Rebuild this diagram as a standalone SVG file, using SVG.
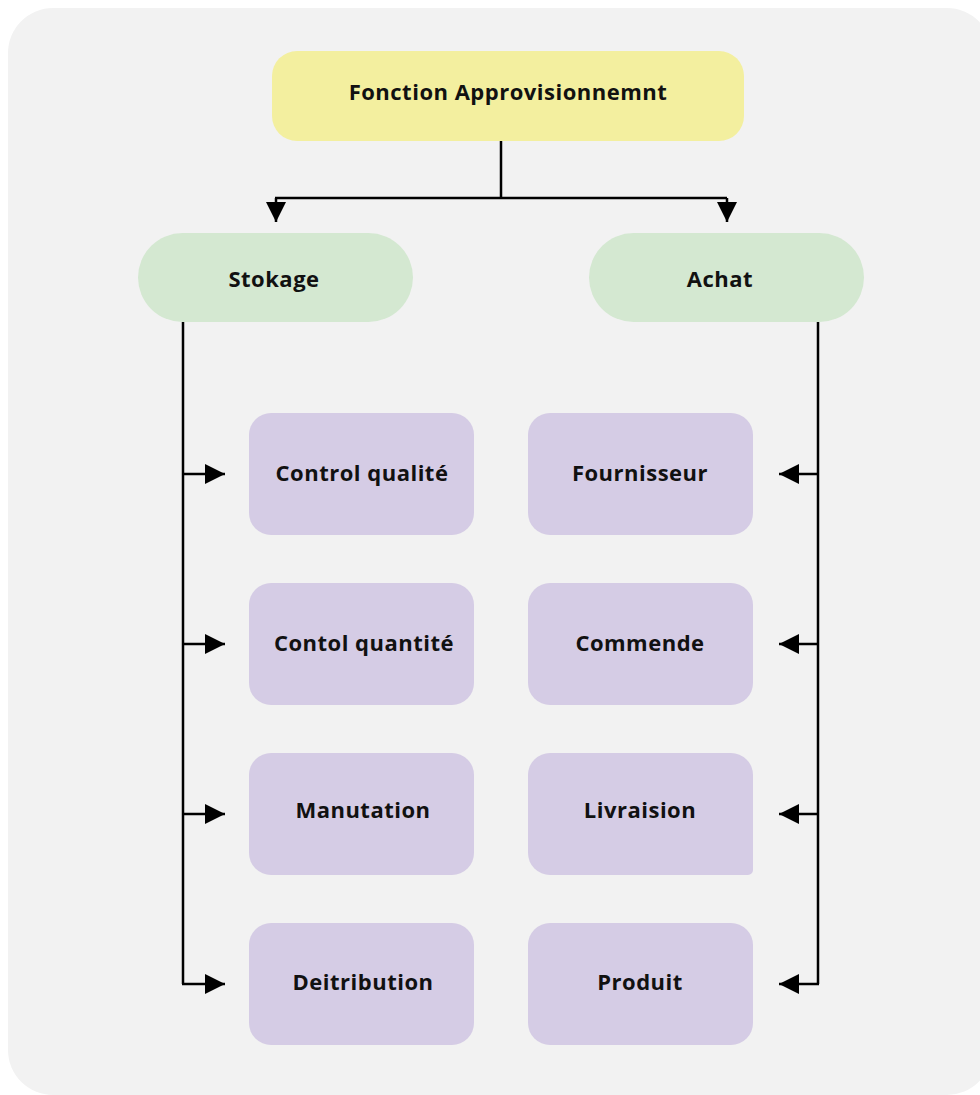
<svg xmlns="http://www.w3.org/2000/svg" width="980" height="1095" viewBox="0 0 980 1095">
<defs>
<marker id="ah" viewBox="0 0 20 20" refX="20" refY="10" markerWidth="20" markerHeight="20" markerUnits="userSpaceOnUse" orient="auto">
<path d="M0,0 L20,10 L0,20 Z" fill="#000"/>
</marker>
<style>
.t{font-family:"Open Sans","Liberation Sans",sans-serif;font-weight:700;fill:#111;text-anchor:middle;font-size:22px;letter-spacing:0.5px}
.c{fill:#d5cce5}
.l{fill:none;stroke:#000;stroke-width:2.5}
</style>
</defs>
<rect width="980" height="1095" fill="#fff"/>
<rect x="8" y="8" width="984" height="1087" rx="45" fill="#f2f2f2"/>
<g id="connectors">
<path class="l" d="M501,141 V198 M275,198 H727"/>
<path class="l" d="M276,198 V222" marker-end="url(#ah)"/>
<path class="l" d="M727,198 V222" marker-end="url(#ah)"/>
<path class="l" d="M183,322 V984"/>
<path class="l" d="M183,474 H225" marker-end="url(#ah)"/>
<path class="l" d="M183,644 H225" marker-end="url(#ah)"/>
<path class="l" d="M183,814 H225" marker-end="url(#ah)"/>
<path class="l" d="M182,984 H225" marker-end="url(#ah)"/>
<path class="l" d="M818,322 V984"/>
<path class="l" d="M818,474 H779" marker-end="url(#ah)"/>
<path class="l" d="M818,644 H779" marker-end="url(#ah)"/>
<path class="l" d="M818,814 H779" marker-end="url(#ah)"/>
<path class="l" d="M819,984 H779" marker-end="url(#ah)"/>
</g>
<g id="root"><rect x="272" y="51" width="472" height="90" rx="25" fill="#f3ef9f"/><text class="t" x="508" y="100">Fonction Approvisionnemnt</text></g>
<g id="stokage"><rect x="138" y="233" width="275" height="89" rx="44.5" fill="#d4e8d1"/><text class="t" x="274" y="287">Stokage</text></g>
<g id="achat"><rect x="589" y="233" width="275" height="89" rx="44.5" fill="#d4e8d1"/><text class="t" x="720" y="287">Achat</text></g>
<g id="control-qualite"><rect class="c" x="249" y="413" width="225" height="122" rx="22"/><text class="t" x="362" y="481">Control qualité</text></g>
<g id="contol-quantite"><rect class="c" x="249" y="583" width="225" height="122" rx="22"/><text class="t" x="364" y="651">Contol quantité</text></g>
<g id="manutation"><rect class="c" x="249" y="753" width="225" height="122" rx="22"/><text class="t" x="363" y="818">Manutation</text></g>
<g id="deitribution"><rect class="c" x="249" y="923" width="225" height="122" rx="22"/><text class="t" x="363" y="990">Deitribution</text></g>
<g id="fournisseur"><rect class="c" x="528" y="413" width="225" height="122" rx="22"/><text class="t" x="640" y="481">Fournisseur</text></g>
<g id="commende"><rect class="c" x="528" y="583" width="225" height="122" rx="22"/><text class="t" x="640" y="651">Commende</text></g>
<g id="livraision"><path class="c" d="M550,753 H731 A22,22 0 0 1 753,775 V870 A5,5 0 0 1 748,875 H550 A22,22 0 0 1 528,853 V775 A22,22 0 0 1 550,753 Z"/><text class="t" x="640" y="818">Livraision</text></g>
<g id="produit"><rect class="c" x="528" y="923" width="225" height="122" rx="22"/><text class="t" x="640" y="990">Produit</text></g>
</svg>
